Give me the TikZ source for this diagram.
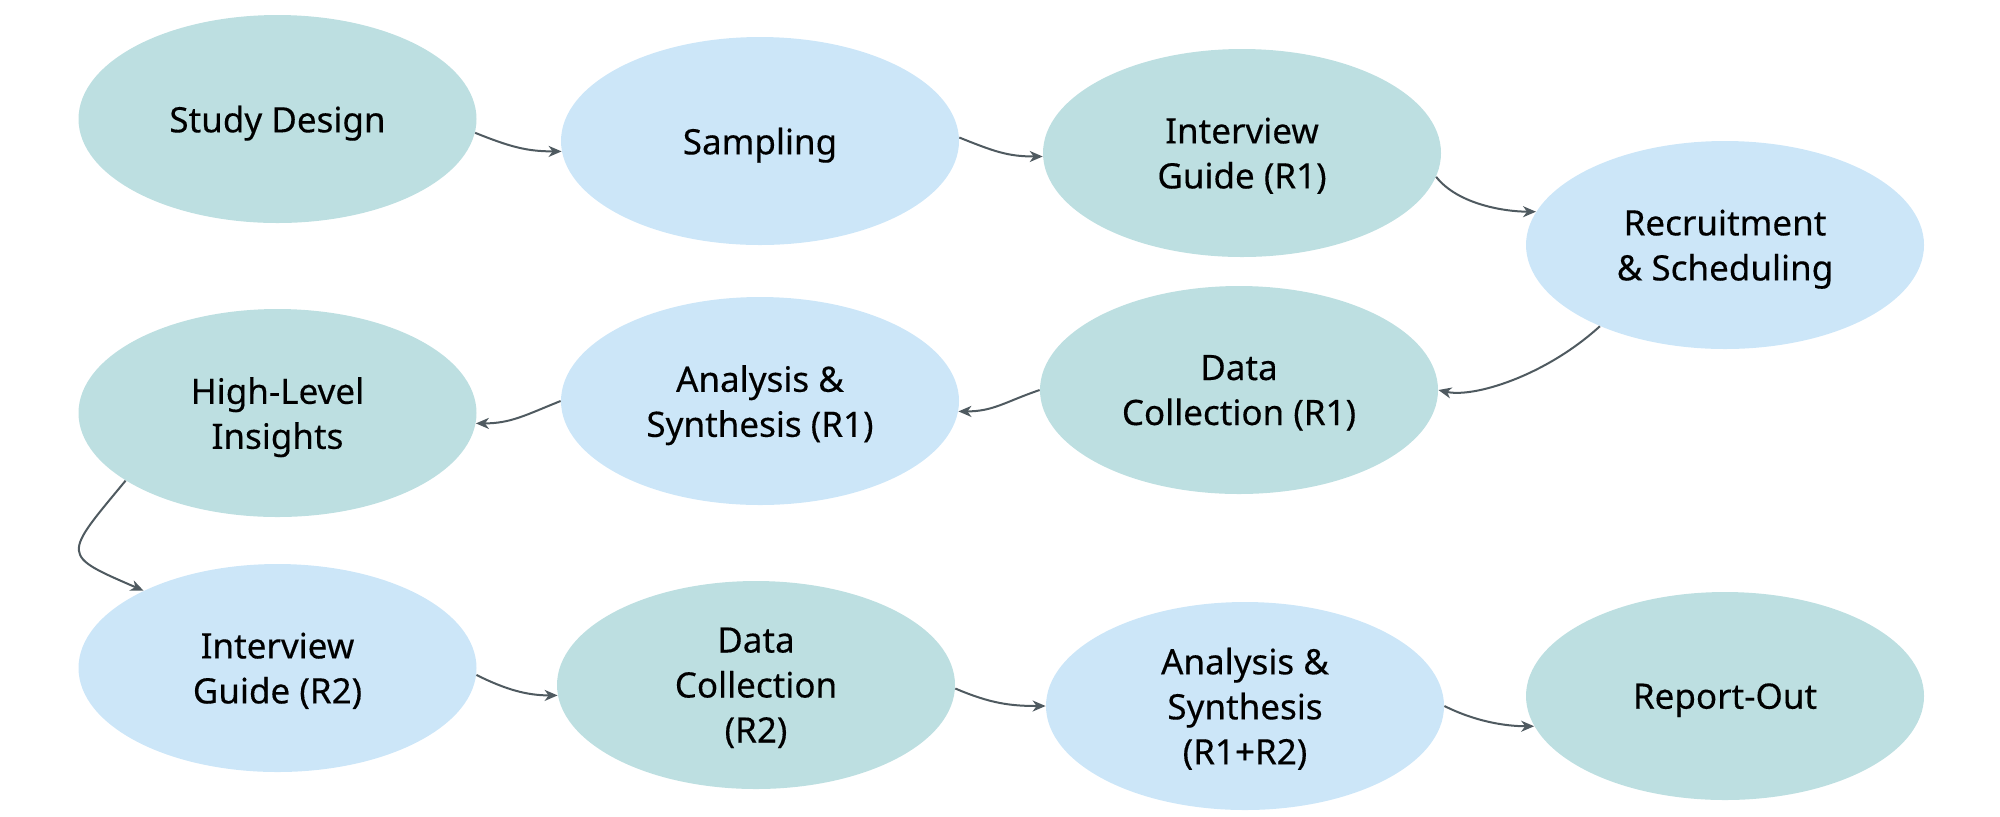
\documentclass[tikz,border=0pt]{standalone}
\usepackage{fontspec}
\setmainfont{Noto Sans}[FakeBold=0.3]
\usetikzlibrary{shapes.geometric,arrows.meta}
\definecolor{tealfill}{HTML}{BDDFE1}
\definecolor{bluefill}{HTML}{CCE6F8}
\definecolor{arrowc}{HTML}{4F5A60}
\begin{document}
\begin{tikzpicture}[x=0.5pt,y=0.5pt,
  bub/.style={ellipse, minimum width=199pt, minimum height=104pt, inner sep=0pt,
    align=center, font=\fontsize{17.5}{22.5}\selectfont, text=black, text depth=0pt},
  tealbub/.style={bub, fill=tealfill},
  bluebub/.style={bub, fill=bluefill},
  conn/.style={draw=arrowc, line width=1pt, -{Stealth[length=6.5pt,width=5.5pt,inset=2pt]}}]
\useasboundingbox (0,0) rectangle (2000,-816);
\node[tealbub] (sd)   at (277.5,-119) {Study Design};
\node[bluebub] (samp) at (760,-141)   {Sampling};
\node[tealbub] (ig1)  at (1242,-153)  {Interview\\Guide (R1)};
\node[bluebub] (rec)  at (1725,-245)  {Recruitment\\\& Scheduling};
\node[tealbub] (dc1)  at (1239,-390)  {Data\\Collection (R1)};
\node[bluebub] (as1)  at (760,-401)   {Analysis \&\\Synthesis (R1)};
\node[tealbub] (hl)   at (277.5,-413) {High-Level\\Insights};
\node[bluebub] (ig2)  at (277.5,-668) {Interview\\Guide (R2)};
\node[tealbub] (dc2)  at (756,-685)   {Data\\Collection\\(R2)};
\node[bluebub] (as12) at (1245,-706)  {Analysis \&\\Synthesis\\(R1+R2)};
\node[tealbub] (ro)   at (1725,-696)  {Report-Out};

\draw[conn] (sd.-4) .. controls +(35,-14) and +(-35,0) .. (samp.183);
\draw[conn] (samp.1) .. controls +(35,-14) and +(-35,0) .. (ig1.181);
\draw[conn] (ig1.-7) .. controls +(22,-28) and +(-30,0) .. (rec.170);
\draw[conn] (rec.-147) .. controls +(-55,-50) and +(35,-8) .. (dc1.0);
\draw[conn] (dc1.180) .. controls +(-35,-12) and +(35,0) .. (as1.-3);
\draw[conn] (as1.180) .. controls +(-35,-14) and +(35,0) .. (hl.-3);
\draw[conn] (hl.-156.5) .. controls +(-63,-76) and +(-83,36) .. (ig2.150);
\draw[conn] (ig2.-2) .. controls +(30,-15) and +(-30,0) .. (dc2.183);
\draw[conn] (dc2.-1) .. controls +(35,-15) and +(-35,0) .. (as12.180);
\draw[conn] (as12.0) .. controls +(30,-15) and +(-30,0) .. (ro.189);
\end{tikzpicture}
\end{document}
